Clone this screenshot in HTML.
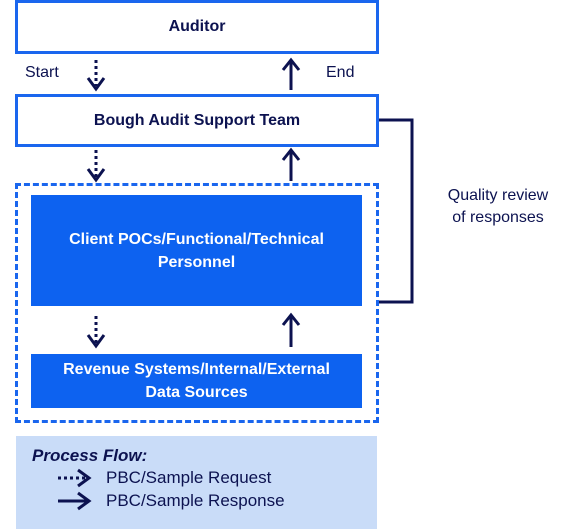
<!DOCTYPE html>
<html><head><style>
body{margin:0;width:579px;height:529px;background:#fff;position:relative;overflow:hidden;font-family:"Liberation Sans",sans-serif;}
.b{position:absolute;box-sizing:border-box;display:flex;align-items:center;justify-content:center;text-align:center;font-weight:bold;}
.w{border:3px solid #1a66ee;background:#fff;color:#0c1250;font-size:16px;}
.f{background:#0d62f0;color:#fff;font-size:16px;line-height:23px;}
.t{position:absolute;color:#0c1250;font-size:16px;}
</style></head><body>
<div class="b w" style="left:15px;top:0;width:364px;height:54px;">Auditor</div>
<div class="b w" style="left:15px;top:94px;width:364px;height:53px;">Bough Audit Support Team</div>
<div style="position:absolute;left:15px;top:183px;width:364px;height:240px;box-sizing:border-box;border:3px dashed #1a66ee;"></div>
<div class="b f" style="left:31px;top:195px;width:331px;height:111px;">Client POCs/Functional/Technical<br>Personnel</div>
<div class="b f" style="left:31px;top:354px;width:331px;height:54px;">Revenue Systems/Internal/External<br>Data Sources</div>
<div style="position:absolute;left:16px;top:436px;width:361px;height:93px;background:#c9dcf8;"></div>
<div class="t" style="left:25px;top:64px;">Start</div>
<div class="t" style="left:326px;top:64px;">End</div>
<div class="t" style="left:438px;top:185px;width:120px;text-align:center;line-height:22px;">Quality review<br>of responses</div>
<div class="t" style="left:32px;top:446px;font-weight:bold;font-style:italic;font-size:17px;">Process Flow:</div>
<div class="t" style="left:106px;top:468px;font-size:17px;">PBC/Sample Request</div>
<div class="t" style="left:106px;top:491px;font-size:17px;">PBC/Sample Response</div>
<svg width="579" height="529" style="position:absolute;left:0;top:0">
<g stroke="#0c1250" stroke-width="3" fill="none">
<path d="M379 120 H412 V302 H379"/>
<path d="M96 60 V86" stroke-dasharray="3 3"/><path d="M88 78 L96 89 L104 78"/>
<path d="M96 150 V177" stroke-dasharray="3 3"/><path d="M88 169 L96 180 L104 169"/>
<path d="M96 316 V343" stroke-dasharray="3 3"/><path d="M88 335 L96 346 L104 335"/>
<path d="M291 62 V90"/><path d="M283 70 L291 60 L299 70"/>
<path d="M291 152 V181"/><path d="M283 160 L291 150 L299 160"/>
<path d="M291 317 V347"/><path d="M283 325 L291 315 L299 325"/>
<path d="M58 478 H85" stroke-dasharray="3 3"/><path d="M78 470 L89 478 L78 486"/>
<path d="M58 501 H87"/><path d="M78 493 L89 501 L78 509"/>
</g></svg>
</body></html>
